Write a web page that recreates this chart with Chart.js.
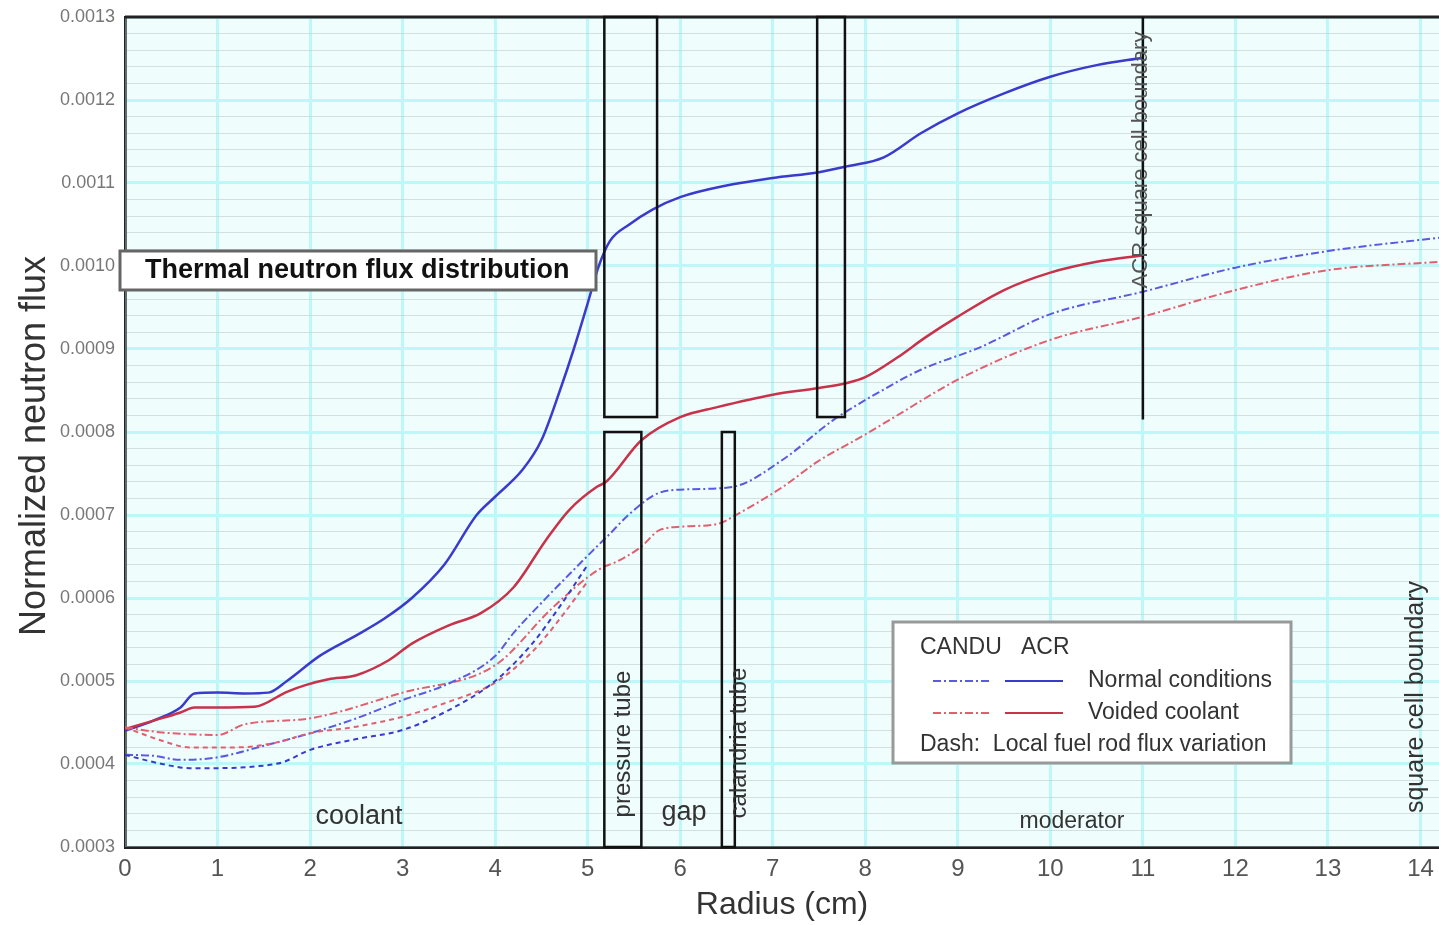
<!DOCTYPE html>
<html lang="en">
  <head>
    <meta charset="UTF-8" />
    <title>Thermal neutron flux distribution</title>
    <style>
      html, body { margin: 0; padding: 0; background: #fff; }
      canvas { display: block; }
    </style>
  </head>
  <body>
    <canvas id="fluxChart" width="1439" height="925" style="width:1439px;height:925px"></canvas>
    <script src="https://cdn.jsdelivr.net/npm/chart.js"></script>
    <script>
      // ACR, normal conditions (solid blue)
      const acrNormalR = [0, 0.3, 0.6, 0.75, 1.0, 1.3, 1.55, 1.75, 2.1, 2.5, 2.8, 3.1, 3.45, 3.8, 4.0, 4.3, 4.5, 4.7, 4.85, 5.0, 5.12, 5.24, 5.45, 5.7, 6.0, 6.5, 7.0, 7.5, 7.8, 8.2, 8.6, 9.0, 9.5, 10.0, 10.5, 11.0];
      const acrNormalFlux = [0.000440, 0.000452, 0.000468, 0.000485, 0.000486, 0.000485, 0.000486, 0.000500, 0.000530, 0.000555, 0.000575, 0.000600, 0.000640, 0.000700, 0.000722, 0.000755, 0.000790, 0.000850, 0.000900, 0.000955, 0.001000, 0.001030, 0.001050, 0.001068, 0.001083, 0.001097, 0.001106, 0.001113, 0.001120, 0.001131, 0.001160, 0.001184, 0.001208, 0.001228, 0.001242, 0.001251];

      // ACR, voided coolant (solid red)
      const acrVoidR = [0, 0.3, 0.6, 0.75, 1.0, 1.4, 1.75, 1.95, 2.2, 2.5, 2.85, 3.1, 3.5, 3.85, 4.2, 4.55, 4.8, 5.1, 5.2, 5.58, 6.0, 6.4, 7.0, 7.5, 7.8, 8.0, 8.35, 8.65, 9.0, 9.5, 10.0, 10.5, 11.0];
      const acrVoidFlux = [0.000442, 0.000452, 0.000462, 0.000468, 0.000468, 0.000469, 0.000487, 0.000495, 0.000502, 0.000507, 0.000525, 0.000545, 0.000567, 0.000582, 0.000613, 0.000670, 0.000706, 0.000734, 0.000740, 0.000790, 0.000818, 0.000830, 0.000845, 0.000853, 0.000859, 0.000866, 0.000890, 0.000914, 0.000939, 0.000971, 0.000992, 0.001005, 0.001013];

      // CANDU, normal conditions (dash-dot blue)
      const canduNormalR = [0, 0.3, 0.6, 1.0, 1.5, 2.0, 2.5, 3.0, 3.5, 4.0, 4.2, 4.56, 4.85, 5.1, 5.21, 5.46, 5.78, 6.1, 6.57, 7.1, 7.65, 8.18, 8.6, 9.24, 10.0, 11.0, 12.0, 13.0, 14.2];
      const canduNormalFlux = [0.000411, 0.000410, 0.000405, 0.000408, 0.000422, 0.000437, 0.000455, 0.000477, 0.000497, 0.000530, 0.000558, 0.000601, 0.000634, 0.000662, 0.000674, 0.000702, 0.000727, 0.000731, 0.000734, 0.000766, 0.000814, 0.000850, 0.000875, 0.000902, 0.000942, 0.000969, 0.000998, 0.001018, 0.001034];

      // CANDU, voided coolant (dash-dot red)
      const canduVoidR = [0, 0.4, 1.0, 1.3, 2.0, 3.0, 4.0, 4.6, 5.0, 5.18, 5.28, 5.57, 5.78, 6.03, 6.43, 6.57, 7.11, 7.48, 8.0, 8.3, 9.0, 10.0, 11.0, 12.0, 13.0, 14.2];
      const canduVoidFlux = [0.000444, 0.000438, 0.000435, 0.000448, 0.000455, 0.000486, 0.000519, 0.000586, 0.000625, 0.000638, 0.000642, 0.000661, 0.000682, 0.000686, 0.000690, 0.000698, 0.000734, 0.000764, 0.000797, 0.000817, 0.000863, 0.000911, 0.000939, 0.000971, 0.000995, 0.001005];

      // local fuel rod flux variation (dashed), coolant region only
      const canduNormalLocalR = [0, 0.4, 0.7, 1.0, 1.4, 1.7, 2.0, 2.5, 3.0, 3.5, 4.0, 4.4, 4.7, 5.0];
      const canduNormalLocalFlux = [0.000411, 0.000400, 0.000395, 0.000395, 0.000397, 0.000402, 0.000417, 0.000430, 0.000441, 0.000465, 0.000500, 0.000545, 0.000590, 0.000640];
      const canduVoidLocalR = [0, 0.4, 0.7, 1.2, 1.6, 2.0, 2.5, 3.0, 3.5, 4.0, 4.4, 4.7, 5.0];
      const canduVoidLocalFlux = [0.000444, 0.000428, 0.000420, 0.000420, 0.000425, 0.000437, 0.000445, 0.000457, 0.000475, 0.000498, 0.000535, 0.000575, 0.000620];

      const xTicks = [0, 1, 2, 3, 4, 5, 6, 7, 8, 9, 10, 11, 12, 13, 14];

      const BLUE = "#3a3acc";
      const RED = "#c8324a";
      const BLUE_LT = "#5a5ae0";
      const RED_LT = "#e06070";
      const FONT = "'Liberation Sans', Arial, sans-serif";

      function pts(xs, ys) {
        return xs.map((x, i) => ({ x: x, y: ys[i] }));
      }

      function series(label, xs, ys, color, dash, width) {
        return {
          label: label,
          data: pts(xs, ys),
          borderColor: color,
          borderWidth: width,
          borderDash: dash,
          pointRadius: 0,
          fill: false,
          cubicInterpolationMode: "monotone",
        };
      }

      // region boxes, in data units
      const regionBoxes = [
        [5.18, 5.75, 0.000818, 0.0013],
        [5.18, 5.58, 0.0003, 0.0008],
        [7.48, 7.78, 0.000818, 0.0013],
        [6.45, 6.59, 0.0003, 0.0008],
      ];

      const decor = {
        id: "decor",
        beforeDatasetsDraw(chart) {
          const { ctx, chartArea: a } = chart;
          ctx.save();
          ctx.fillStyle = "rgba(210,250,250,0.35)";
          ctx.fillRect(a.left, a.top, a.right - a.left, a.bottom - a.top);
          ctx.restore();
        },
        afterDatasetsDraw(chart) {
          const { ctx, chartArea: a, scales } = chart;
          const X = (v) => scales.x.getPixelForValue(v);
          const Y = (v) => scales.y.getPixelForValue(v);
          ctx.save();

          // top frame line
          ctx.strokeStyle = "#222";
          ctx.lineWidth = 3;
          ctx.beginPath();
          ctx.moveTo(a.left, a.top);
          ctx.lineTo(a.right, a.top);
          ctx.stroke();

          // tube boxes
          ctx.lineWidth = 2.5;
          ctx.strokeStyle = "#111";
          regionBoxes.forEach(([x0, x1, y0, y1]) => {
            ctx.strokeRect(X(x0), Y(y1), X(x1) - X(x0), Y(y0) - Y(y1));
          });

          // ACR square cell boundary
          ctx.beginPath();
          ctx.moveTo(X(11), Y(0.0013));
          ctx.lineTo(X(11), Y(0.000815));
          ctx.stroke();

          const vtext = (txt, x, y, size, color) => {
            ctx.save();
            ctx.translate(x, y);
            ctx.rotate(-Math.PI / 2);
            ctx.fillStyle = color;
            ctx.font = size + "px " + FONT;
            ctx.textAlign = "center";
            ctx.textBaseline = "middle";
            ctx.fillText(txt, 0, 0);
            ctx.restore();
          };
          vtext("Normalized neutron flux", 35, 446, 36, "#333");
          vtext("ACR square cell boundary", X(11) - 2, 160, 22, "#555");
          vtext("pressure tube", 623, 744, 24, "#333");
          vtext("calandria tube", 739, 743, 24, "#333");
          vtext("square cell boundary", 1416, 697, 25, "#333");

          ctx.fillStyle = "#333";
          ctx.textAlign = "center";
          ctx.textBaseline = "middle";
          ctx.font = "27px " + FONT;
          ctx.fillText("coolant", 359, 817);
          ctx.fillText("gap", 684, 813);
          ctx.font = "23px " + FONT;
          ctx.fillText("moderator", 1072, 822);

          // title box
          ctx.fillStyle = "#fff";
          ctx.fillRect(120, 251, 476, 39);
          ctx.strokeStyle = "#666";
          ctx.lineWidth = 3;
          ctx.strokeRect(120, 251, 476, 39);
          ctx.fillStyle = "#111";
          ctx.textAlign = "left";
          ctx.font = "bold 27px " + FONT;
          ctx.fillText("Thermal neutron flux distribution", 145, 271);

          // legend box
          ctx.fillStyle = "#fff";
          ctx.fillRect(893, 622, 398, 141);
          ctx.strokeStyle = "#999";
          ctx.lineWidth = 3;
          ctx.strokeRect(893, 622, 398, 141);
          ctx.fillStyle = "#333";
          ctx.font = "23px " + FONT;
          ctx.fillText("CANDU   ACR", 920, 648);
          ctx.fillText("Normal conditions", 1088, 681);
          ctx.fillText("Voided coolant", 1088, 713);
          ctx.fillText("Dash:  Local fuel rod flux variation", 920, 745);
          const sample = (x0, x1, y, color, dash) => {
            ctx.strokeStyle = color;
            ctx.lineWidth = 2;
            ctx.setLineDash(dash);
            ctx.beginPath();
            ctx.moveTo(x0, y);
            ctx.lineTo(x1, y);
            ctx.stroke();
            ctx.setLineDash([]);
          };
          sample(933, 990, 681, BLUE_LT, [8, 3, 2, 3]);
          sample(1005, 1063, 681, BLUE, []);
          sample(933, 990, 713, RED_LT, [8, 3, 2, 3]);
          sample(1005, 1063, 713, RED, []);

          ctx.restore();
        },
      };

      const canvas = document.getElementById("fluxChart");

      new Chart(canvas, {
        type: "line",
        data: {
          datasets: [
            series("CANDU local, normal", canduNormalLocalR, canduNormalLocalFlux, BLUE, [5, 4], 2),
            series("CANDU local, voided", canduVoidLocalR, canduVoidLocalFlux, RED_LT, [5, 4], 2),
            series("CANDU normal", canduNormalR, canduNormalFlux, BLUE_LT, [8, 3, 2, 3], 2),
            series("CANDU voided", canduVoidR, canduVoidFlux, RED_LT, [8, 3, 2, 3], 2),
            series("ACR voided", acrVoidR, acrVoidFlux, RED, [], 2.5),
            series("ACR normal", acrNormalR, acrNormalFlux, BLUE, [], 2.5),
          ],
        },
        options: {
          responsive: false,
          animation: false,
          layout: { padding: { top: 17, right: 0, bottom: 0, left: 0 } },
          plugins: {
            legend: { display: false },
            tooltip: { enabled: false },
          },
          scales: {
            x: {
              type: "linear",
              min: 0,
              max: 14.2,
              afterBuildTicks: (s) => {
                s.ticks = xTicks.map((v) => ({ value: v }));
              },
              ticks: {
                color: "#555",
                font: { family: FONT, size: 24 },
                padding: 8,
                maxRotation: 0,
              },
              grid: { color: "#b4f6f6", lineWidth: 3, drawTicks: false },
              border: { color: "#222", width: 3 },
              title: {
                display: true,
                text: "Radius (cm)",
                color: "#333",
                font: { family: FONT, size: 32 },
                padding: { top: 0, bottom: 1 },
              },
              afterFit: (s) => {
                s.height = 78;
                s.paddingTop = 0;
                s.paddingBottom = 0;
                s.paddingRight = 0;
              },
            },
            y: {
              min: 0.0003,
              max: 0.0013,
              ticks: {
                stepSize: 0.00002,
                autoSkip: false,
                color: "#777",
                font: { family: FONT, size: 18 },
                padding: 10,
                callback: (v) => (Math.round(v * 1e5) % 10 === 0 ? v.toFixed(4) : ""),
              },
              grid: {
                drawTicks: false,
                color: (c) =>
                  Math.round(c.tick.value * 1e5) % 10 === 0 ? "#b4f6f6" : "rgba(175,175,175,0.55)",
                lineWidth: (c) => (Math.round(c.tick.value * 1e5) % 10 === 0 ? 3 : 1),
              },
              border: { color: "#222", width: 3 },
              afterFit: (s) => {
                s.width = 125;
                s.paddingTop = 0;
                s.paddingBottom = 0;
              },
            },
          },
        },
        plugins: [decor],
      });
    </script>
  </body>
</html>
